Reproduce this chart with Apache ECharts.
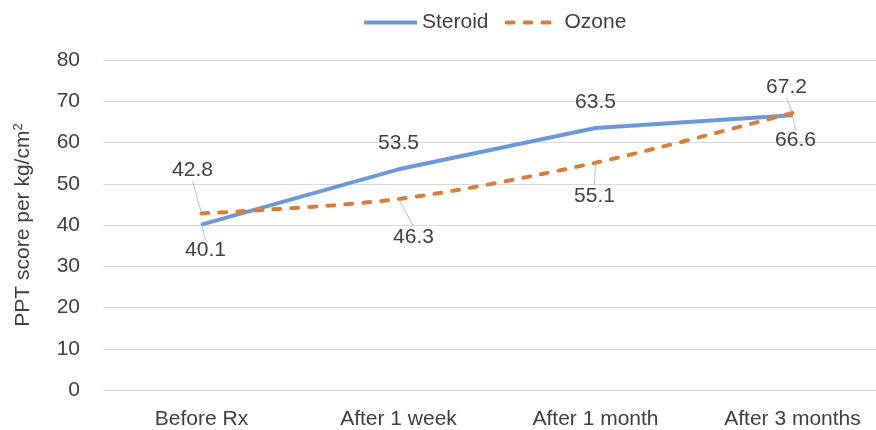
<!DOCTYPE html>
<html>
<head>
<meta charset="utf-8">
<script src="https://cdn.jsdelivr.net/npm/echarts@6/dist/echarts.min.js"></script>
<style>
html,body{margin:0;padding:0;background:#fff;}
#chart{width:876px;height:430px;}
</style>
</head>
<body>
<div id="chart"></div>
<script>
var categories = ['Before Rx', 'After 1 week', 'After 1 month', 'After 3 months'];
var steroidValues = [40.1, 53.5, 63.5, 66.6];
var ozoneValues = [42.8, 46.3, 55.1, 67.2];
var yTicks = {min: 0, max: 80, interval: 10};

// label offsets (px) from each point, plus whether a leader line is drawn
var steroidLabelOffsets = [[4, 26, true], [0, -26, false], [0, -26, false], [3, 25, true]];
var ozoneLabelOffsets = [[-9, -43, true], [15, 38, true], [-1, 33, true], [-6, -26, true]];

var font = 'Liberation Sans, Arial, sans-serif';
var textColor = '#404040';
var blue = '#6E97D7';
var orange = '#DA7D38';

function buildData(values, offsets) {
  return values.map(function (v, i) {
    return {value: v, labelLine: {show: offsets[i][2]}};
  });
}

function makeLayout(offsets) {
  return function (params) {
    var r = params.rect;
    var o = offsets[params.dataIndex];
    return {
      x: r.x + r.width / 2 + o[0],
      y: r.y + r.height / 2 + o[1],
      align: 'center',
      verticalAlign: 'middle'
    };
  };
}

var chart = echarts.init(document.getElementById('chart'), null, {renderer: 'canvas'});
chart.setOption({
  animation: false,
  textStyle: {fontFamily: font},
  legend: {
    top: 7,
    left: 357,
    itemWidth: 53,
    itemHeight: 14,
    itemGap: 16,
    itemStyle: {opacity: 0},
    lineStyle: {width: 4},
    textStyle: {fontSize: 21, color: textColor, fontFamily: font},
    data: ['Steroid', 'Ozone']
  },
  grid: {left: 103, top: 60, height: 330, width: 788, outerBoundsMode: 'none', containLabel: false},
  xAxis: {
    type: 'category',
    data: categories,
    boundaryGap: true,
    axisLine: {show: false},
    axisTick: {show: false},
    axisLabel: {fontSize: 21, color: textColor, margin: 19, fontFamily: font}
  },
  yAxis: {
    type: 'value',
    min: yTicks.min,
    max: yTicks.max,
    interval: yTicks.interval,
    axisLine: {show: false},
    axisTick: {show: false},
    splitLine: {lineStyle: {color: '#d9d9d9', width: 1}},
    axisLabel: {fontSize: 21, color: textColor, margin: 23, fontFamily: font},
    name: 'PPT score per kg/cm{sup|2}',
    nameLocation: 'middle',
    nameGap: 68,
    nameRotate: 90,
    nameMoveOverlap: false,
    nameTextStyle: {
      fontSize: 21, color: textColor, fontFamily: font,
      rich: {sup: {fontSize: 13, color: textColor, fontFamily: font, padding: [0, 0, 10, 0]}}
    }
  },
  series: [
    {
      name: 'Steroid',
      type: 'line',
      data: buildData(steroidValues, steroidLabelOffsets),
      symbol: 'circle',
      symbolSize: 2,
      itemStyle: {color: blue},
      lineStyle: {color: blue, width: 4},
      smooth: false,
      label: {show: true, fontSize: 21, color: textColor, fontFamily: font},
      labelLine: {show: false, lineStyle: {color: '#bfbfbf', width: 1}},
      labelLayout: makeLayout(steroidLabelOffsets),
      z: 2
    },
    {
      name: 'Ozone',
      type: 'line',
      data: buildData(ozoneValues, ozoneLabelOffsets),
      symbol: 'circle',
      symbolSize: 2,
      itemStyle: {color: orange},
      lineStyle: {color: orange, width: 4, type: [7, 11], cap: 'round'},
      smooth: 0.3,
      label: {show: true, fontSize: 21, color: textColor, fontFamily: font},
      labelLine: {show: false, lineStyle: {color: '#bfbfbf', width: 1}},
      labelLayout: makeLayout(ozoneLabelOffsets),
      z: 3
    }
  ]
});
</script>
</body>
</html>
